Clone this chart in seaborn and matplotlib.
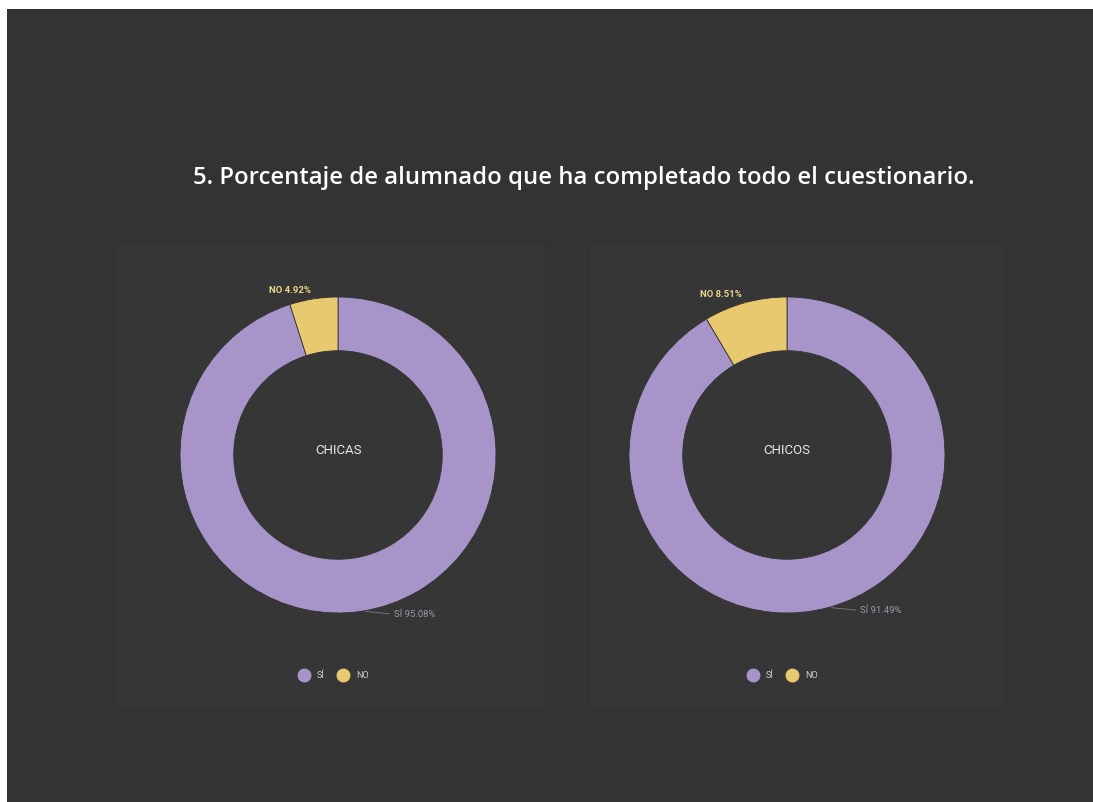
import matplotlib
matplotlib.use("Agg")
import numpy as np
import matplotlib.pyplot as plt
from matplotlib.patches import Rectangle
from matplotlib.lines import Line2D
import seaborn as sns

# Survey completion shares by group
groups = ["CHICAS", "CHICOS"]
categories = ["SÍ", "NO"]
si_pct = [95.08, 91.49]
no_pct = [4.92, 8.51]

title = "5. Porcentaje de alumnado que ha completado todo el cuestionario."

BG = "#333333"
PANEL = "#363636"
PURPLE = "#a795ca"
YELLOW = "#e9c970"

sns.set_theme(style="dark")
plt.rcParams["font.family"] = ["Roboto", "DejaVu Sans"]

W, H = 1093, 802
fig = plt.figure(figsize=(W / 100, H / 100), dpi=100, facecolor=BG)


def px_rect(x0, y0, w, h):
    """Convert a top-left pixel box to figure fraction coordinates."""
    return [x0 / W, 1 - (y0 + h) / H, w / W, h / H]


# white margin along the top and left edges
fig.patches.append(Rectangle((0, 1 - 9 / H), 1, 9 / H, transform=fig.transFigure,
                             facecolor="white", edgecolor="none", zorder=-5))
fig.patches.append(Rectangle((0, 0), 7 / W, 1, transform=fig.transFigure,
                             facecolor="white", edgecolor="none", zorder=-5))

# chart panels
for (x0, x1) in [(115, 545), (590, 1005)]:
    fig.patches.append(Rectangle((x0 / W, 1 - 708 / H), (x1 - x0) / W, (708 - 243) / H,
                                 transform=fig.transFigure, facecolor=PANEL,
                                 edgecolor="none", zorder=-5))

fig.text(584 / W, 1 - 178 / H, title, ha="center", va="center",
         fontsize=17.2, color="white", fontweight="semibold",
         family=["Open Sans", "DejaVu Sans"])

centers = [(338, 455), (787, 455)]
R_PX = 158
SIZE = 400

for i, g in enumerate(groups):
    cx, cy = centers[i]
    ax = fig.add_axes(px_rect(cx - SIZE / 2, cy - SIZE / 2, SIZE, SIZE))
    ax.set_facecolor("none")
    ax.set_zorder(2)
    vals = [si_pct[i], no_pct[i]]
    ax.pie(vals, colors=[PURPLE, YELLOW], startangle=90,
           counterclock=False, radius=1.0,
           wedgeprops=dict(width=0.34, edgecolor=BG, linewidth=0.6))
    lim = SIZE / 2 / R_PX
    ax.set_xlim(-lim, lim)
    ax.set_ylim(-lim, lim)
    ax.set_aspect("equal")
    ax.axis("off")

    ax.text(0, 5 / R_PX, g, ha="center", va="center", fontsize=9.5,
            color="#e6e6e6")

    # NO label just above the small wedge, leader from its lower-right corner
    ang = np.deg2rad(90 + no_pct[i] * 3.6 / 2)
    ex, ey = np.cos(ang), np.sin(ang)
    ax.annotate(f"NO {no_pct[i]:.2f}%", xy=(ex, ey),
                xytext=(ex - 0.02, ey + 0.05), ha="right", va="center",
                fontsize=6.8, color="#e8d48a", fontweight="bold",
                arrowprops=dict(arrowstyle="-", color="#e8d48a", lw=0.6,
                                shrinkA=0, shrinkB=0, relpos=(1.0, 0.2)))

    # SÍ label to the lower right of the ring
    ang2 = np.deg2rad(90 - si_pct[i] * 3.6 / 2)
    sx, sy = np.cos(ang2), np.sin(ang2)
    ax.annotate(f"SÍ {si_pct[i]:.2f}%", xy=(sx, sy),
                xytext=(sx + 0.2, sy - 0.02), ha="left", va="center",
                fontsize=6.8, color="#9a96aa",
                arrowprops=dict(arrowstyle="-", color="#7d7890", lw=0.6,
                                shrinkA=1, shrinkB=2, relpos=(0.0, 0.5)))

    # legend
    handles = [Line2D([0], [0], marker="o", linestyle="none", markersize=9,
                      markerfacecolor=c, markeredgecolor=c)
               for c in (PURPLE, YELLOW)]
    fig.legend(handles, categories, loc="center",
               bbox_to_anchor=((cx - 4) / W, 1 - 676 / H), ncol=2,
               frameon=False, fontsize=6.5, labelcolor="#cfcfcf",
               handletextpad=0.9, columnspacing=1.6, handlelength=1.0)

fig.savefig("out.png", dpi=100, facecolor=BG)
